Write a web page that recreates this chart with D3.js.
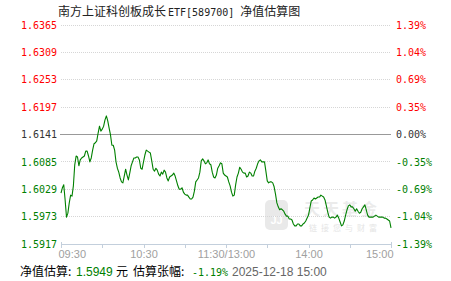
<!DOCTYPE html>
<html>
<head>
<meta charset="utf-8">
<script src="https://cdn.jsdelivr.net/npm/d3@7"></script>
<style>
  html, body { margin: 0; padding: 0; background: #fff; }
  svg { display: block; }
</style>
</head>
<body>
<svg id="chart" width="451" height="281"></svg>
<script>
// ---------------- data ----------------
const title = "南方上证科创板成长";
const titleCode = "ETF[589700]";
const titleTail = "净值估算图";
const prevNav = 1.6141;
const yTicks = [1.6365, 1.6309, 1.6253, 1.6197, 1.6141, 1.6085, 1.6029, 1.5973, 1.5917];
const pctLabels = ["1.39%", "1.04%", "0.69%", "0.35%", "0.00%", "-0.35%", "-0.69%", "-1.04%", "-1.39%"];
const xTickMinutes = [0, 30, 60, 90, 120, 150, 180, 210, 240];
const xLabelMinutes = [0, 60, 120, 180, 240];
const xLabels = ["09:30", "10:30", "11:30/13:00", "14:00", "15:00"];
// minute-by-minute estimated NAV, 09:30-11:30 then 13:01-15:00
const navs = [
  1.6020, 1.6031, 1.6037, 1.6006, 1.5971, 1.5979, 1.6000, 1.6016, 1.6014, 1.6035,
  1.6078, 1.6096, 1.6094, 1.6076, 1.6088, 1.6092, 1.6094, 1.6096, 1.6106, 1.6106,
  1.6096, 1.6084, 1.6092, 1.6108, 1.6121, 1.6123, 1.6127, 1.6143, 1.6157, 1.6147,
  1.6151, 1.6157, 1.6170, 1.6178, 1.6168, 1.6153, 1.6139, 1.6118, 1.6118, 1.6108,
  1.6084, 1.6071, 1.6063, 1.6051, 1.6043, 1.6041, 1.6055, 1.6069, 1.6057, 1.6047,
  1.6061, 1.6076, 1.6084, 1.6092, 1.6092, 1.6094, 1.6094, 1.6088, 1.6071, 1.6069,
  1.6084, 1.6098, 1.6108, 1.6106, 1.6104, 1.6102, 1.6086, 1.6069, 1.6065, 1.6071,
  1.6067, 1.6059, 1.6055, 1.6063, 1.6059, 1.6067, 1.6063, 1.6051, 1.6045, 1.6053,
  1.6055, 1.6057, 1.6061, 1.6055, 1.6045, 1.6035, 1.6028, 1.6028, 1.6031, 1.6022,
  1.6018, 1.6016, 1.6016, 1.6012, 1.6008, 1.6008, 1.6012, 1.6024, 1.6043, 1.6047,
  1.6051, 1.6063, 1.6086, 1.6090, 1.6086, 1.6080, 1.6082, 1.6088, 1.6080, 1.6078,
  1.6063, 1.6053, 1.6051, 1.6057, 1.6071, 1.6076, 1.6082, 1.6080, 1.6061, 1.6057, 1.6055,
  1.6053, 1.6043, 1.6035, 1.6022, 1.6014, 1.6016, 1.6037, 1.6053, 1.6061, 1.6073,
  1.6069, 1.6063, 1.6061, 1.6061, 1.6053, 1.6055, 1.6063, 1.6061, 1.6055, 1.6055,
  1.6065, 1.6071, 1.6080, 1.6086, 1.6088, 1.6084, 1.6084, 1.6084, 1.6065, 1.6045,
  1.6041, 1.6043, 1.6043, 1.6041, 1.6033, 1.6018, 1.6000, 1.5992, 1.5986, 1.5988,
  1.5986, 1.5983, 1.5977, 1.5973, 1.5973, 1.5967, 1.5967, 1.5965, 1.5957, 1.5953,
  1.5953, 1.5957, 1.5957, 1.5953, 1.5953, 1.5957, 1.5959, 1.5963, 1.5969, 1.5975,
  1.5990, 1.6004, 1.6006, 1.6010, 1.6008, 1.6010, 1.6012, 1.6012, 1.6016, 1.6014,
  1.6012, 1.6006, 1.5994, 1.5981, 1.5971, 1.5969, 1.5971, 1.5971, 1.5969, 1.5971,
  1.5975, 1.5969, 1.5961, 1.5953, 1.5955, 1.5963, 1.5975, 1.5986, 1.5994, 1.5996,
  1.5992, 1.5992, 1.5988, 1.5983, 1.5988, 1.5983, 1.5979, 1.5981, 1.5988, 1.5992,
  1.5996, 1.5986, 1.5975, 1.5971, 1.5971, 1.5971, 1.5971, 1.5973, 1.5975, 1.5973,
  1.5971, 1.5971, 1.5971, 1.5971, 1.5969, 1.5969, 1.5967, 1.5965, 1.5963, 1.5949
];
const footNav = "1.5949";
const footPct = "-1.19%";
const footTime = "2025-12-18 15:00";

// ---------------- drawing ----------------
const svg = d3.select("#chart");
const L = 61, R = 391, T = 24.5, B = 243.5;
const x = d3.scaleLinear().domain([0, 240]).range([L, R]);
const y = d3.scaleLinear().domain([1.5917, 1.6365]).range([B, T]);
const monoFont = "'DejaVu Sans Mono', 'Liberation Mono', monospace";
const cjkFont = "'Noto Sans CJK SC', sans-serif";
const sansFont = "'Liberation Sans', Arial, sans-serif";
const colorOf = v => v > prevNav + 1e-9 ? "#ff0000" : (v < prevNav - 1e-9 ? "#008000" : "#333333");
const snap = v => Math.round(v) + 0.5;

// title
const tt = svg.append("text").attr("x", 58).attr("y", 15.5).attr("fill", "#222").attr("font-size", 12);
tt.append("tspan").attr("font-family", cjkFont).text(title);
tt.append("tspan").attr("font-family", monoFont).attr("font-size", 10).attr("dx", 2).text(titleCode);
tt.append("tspan").attr("font-family", cjkFont).attr("dx", 6).text(titleTail);

// watermark
const wm = svg.append("g").attr("opacity", 0.55);
wm.append("rect").attr("x", 265).attr("y", 200).attr("width", 23).attr("height", 30).attr("rx", 5).attr("fill", "#d8d8d8");
wm.append("text").attr("x", 276.5).attr("y", 224).attr("text-anchor", "middle").attr("font-family", sansFont)
  .attr("font-size", 11).attr("font-weight", "bold").attr("fill", "#fff").text("JJ");
wm.append("text").attr("x", 304).attr("y", 215).attr("font-family", cjkFont).attr("font-size", 16)
  .attr("font-weight", "bold").attr("fill", "#dcdcdc").attr("letter-spacing", 3).text("天天基金");
wm.append("text").attr("x", 309).attr("y", 231).attr("font-family", cjkFont).attr("font-size", 8)
  .attr("fill", "#d0d0d0").attr("letter-spacing", 4).text("链接您与财富");

// gridlines
const grid = svg.append("g");
grid.selectAll("line").data(yTicks.filter(v => v !== 1.5917)).join("line")
  .attr("x1", d => d === prevNav ? L - 1 : L).attr("x2", R)
  .attr("y1", d => snap(y(d))).attr("y2", d => snap(y(d)))
  .attr("stroke", d => d === prevNav ? "#999999" : "#d6d6d6")
  .attr("stroke-width", 1)
  .attr("stroke-dasharray", d => d === prevNav ? null : "1,1")
  .attr("shape-rendering", "crispEdges");

// left axis labels
const gl = svg.append("g").attr("transform", `translate(${L},0.5)`)
  .call(d3.axisLeft(y).tickValues(yTicks).tickSize(0).tickPadding(4).tickFormat(d3.format(".4f")));
gl.select(".domain").remove();
gl.selectAll("text").attr("font-family", monoFont).attr("font-size", 10).attr("fill", d => colorOf(d));

// right axis labels
const gr = svg.append("g").attr("transform", `translate(${R},0.5)`)
  .call(d3.axisRight(y).tickValues(yTicks).tickSize(0).tickPadding(5)
    .tickFormat((d, i) => pctLabels[i]));
gr.select(".domain").remove();
gr.selectAll("text").attr("font-family", monoFont).attr("font-size", 10).attr("fill", d => colorOf(d));

// bottom axis
const gx = svg.append("g").attr("transform", `translate(0,${B})`)
  .call(d3.axisBottom(x).tickValues(xTickMinutes).tickSize(4).tickFormat(""));
gx.select(".domain").attr("d", `M${L},0.5H${R}`).attr("stroke", "#c3cfdc").attr("shape-rendering", "crispEdges");
gx.selectAll(".tick line").attr("stroke", "#c3cfdc").attr("shape-rendering", "crispEdges")
  .attr("y1", d => (d === 0 || d === 240) ? -2 : 0);
gx.selectAll(".tick").attr("transform", d => `translate(${snap(x(d))},0)`);

const gxl = svg.append("g").attr("transform", `translate(0,${B})`)
  .call(d3.axisBottom(x).tickValues(xLabelMinutes).tickSize(0).tickPadding(0)
    .tickFormat((d, i) => xLabels[i]));
gxl.select(".domain").remove();
gxl.selectAll("text").attr("font-family", sansFont).attr("font-size", 11).attr("fill", "#a0a0a0")
  .attr("dy", null).attr("y", 14.5)
  .attr("text-anchor", d => d === 0 ? "start" : (d === 240 ? "end" : "middle"))
  .attr("x", d => d === 0 ? -3 : (d === 240 ? 2 : 0));

// NAV line
const line = d3.line().x((d, i) => x(i)).y(d => y(d));
svg.append("path").datum(navs).attr("d", line)
  .attr("fill", "none").attr("stroke", "#008000").attr("stroke-width", 1.1)
  .attr("stroke-linejoin", "round");

// footer
const fy = 276;
svg.append("text").attr("x", 20).attr("y", fy).attr("font-family", cjkFont).attr("font-size", 12)
  .attr("fill", "#000").text("净值估算:");
svg.append("text").attr("x", 76).attr("y", fy).attr("font-family", sansFont).attr("font-size", 12)
  .attr("fill", "#008000").text(footNav);
svg.append("text").attr("x", 116).attr("y", fy).attr("font-family", cjkFont).attr("font-size", 12)
  .attr("fill", "#000").text("元");
svg.append("text").attr("x", 133).attr("y", fy).attr("font-family", cjkFont).attr("font-size", 12)
  .attr("fill", "#000").text("估算张幅:");
svg.append("text").attr("x", 192).attr("y", fy).attr("font-family", monoFont).attr("font-size", 10)
  .attr("fill", "#008000").text(footPct);
svg.append("text").attr("x", 232).attr("y", fy).attr("font-family", sansFont).attr("font-size", 12)
  .attr("fill", "#666").text(footTime);
</script>
</body>
</html>
